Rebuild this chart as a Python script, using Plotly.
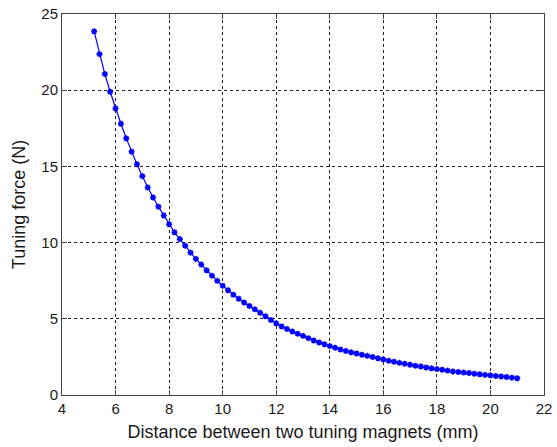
import plotly.graph_objects as go

distance_mm = [5.2, 5.4, 5.6, 5.8, 6.0, 6.2, 6.4, 6.6, 6.8, 7.0,
               7.2, 7.4, 7.6, 7.8, 8.0, 8.2, 8.4, 8.6, 8.8, 9.0,
               9.2, 9.4, 9.6, 9.8, 10.0, 10.2, 10.4, 10.6, 10.8, 11.0,
               11.2, 11.4, 11.6, 11.8, 12.0, 12.2, 12.4, 12.6, 12.8, 13.0,
               13.2, 13.4, 13.6, 13.8, 14.0, 14.2, 14.4, 14.6, 14.8, 15.0,
               15.2, 15.4, 15.6, 15.8, 16.0, 16.2, 16.4, 16.6, 16.8, 17.0,
               17.2, 17.4, 17.6, 17.8, 18.0, 18.2, 18.4, 18.6, 18.8, 19.0,
               19.2, 19.4, 19.6, 19.8, 20.0, 20.2, 20.4, 20.6, 20.8, 21.0]

force_N = [23.86, 22.37, 21.06, 19.9, 18.8, 17.8, 16.84, 15.96, 15.14, 14.36,
           13.62, 12.96, 12.36, 11.78, 11.2, 10.68, 10.23, 9.8, 9.34, 8.93,
           8.56, 8.18, 7.83, 7.49, 7.17, 6.87, 6.58, 6.32, 6.07, 5.84,
           5.62, 5.4, 5.17, 4.92, 4.7, 4.5, 4.33, 4.17, 4.02, 3.88,
           3.73, 3.58, 3.45, 3.33, 3.21, 3.1, 2.99, 2.89, 2.8, 2.72,
           2.64, 2.57, 2.49, 2.41, 2.33, 2.25, 2.18, 2.11, 2.05, 1.98,
           1.92, 1.87, 1.81, 1.75, 1.70, 1.66, 1.6, 1.54, 1.51, 1.47,
           1.44, 1.39, 1.36, 1.32, 1.29, 1.25, 1.22, 1.18, 1.14, 1.1]

x_ticks = [4, 6, 8, 10, 12, 14, 16, 18, 20, 22]
y_ticks = [0, 5, 10, 15, 20, 25]

FONT = "Liberation Sans, Arial, sans-serif"

fig = go.Figure()
fig.add_trace(go.Scatter(
    x=distance_mm, y=force_N, mode="lines+markers",
    line=dict(color="#0000FF", width=1.2),
    marker=dict(symbol="asterisk-open", size=5, color="#0000FF",
                line=dict(color="#0000FF", width=1.6)),
    showlegend=False,
))

axis_common = dict(
    showline=True, mirror="ticks", linecolor="#444444", linewidth=1,
    ticks="inside", ticklen=5, tickcolor="#444444",
    showgrid=True, gridcolor="#222222", gridwidth=1, griddash="3px,3px",
    zeroline=False, ticklabeloverflow="allow",
    tickfont=dict(family=FONT, size=15, color="#1a1a1a"),
)

fig.update_xaxes(range=[4, 22], tickvals=x_ticks,
                 title=dict(text="Distance between two tuning magnets (mm)",
                            font=dict(family=FONT, size=18, color="#1a1a1a"),
                            standoff=9),
                 **axis_common)
fig.update_yaxes(range=[0, 25], tickvals=y_ticks,
                 title=dict(text="Tuning force (N)",
                            font=dict(family=FONT, size=18, color="#1a1a1a"),
                            standoff=11),
                 **axis_common)

fig.update_layout(
    width=557, height=447,
    margin=dict(l=62, r=5, t=8, b=52),
    paper_bgcolor="white", plot_bgcolor="white",
)

fig.write_html("out.html")
